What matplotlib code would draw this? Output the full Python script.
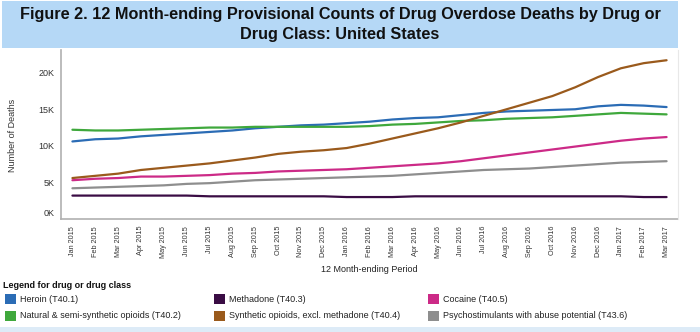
import matplotlib
matplotlib.use("Agg")
import matplotlib.pyplot as plt
from matplotlib.patches import Rectangle
from matplotlib.transforms import ScaledTranslation

months = ["Jan 2015", "Feb 2015", "Mar 2015", "Apr 2015", "May 2015", "Jun 2015",
          "Jul 2015", "Aug 2015", "Sep 2015", "Oct 2015", "Nov 2015", "Dec 2015",
          "Jan 2016", "Feb 2016", "Mar 2016", "Apr 2016", "May 2016", "Jun 2016",
          "Jul 2016", "Aug 2016", "Sep 2016", "Oct 2016", "Nov 2016", "Dec 2016",
          "Jan 2017", "Feb 2017", "Mar 2017"]

# deaths, in thousands, 12 months ending in each month
heroin = [10.6, 10.9, 11.0, 11.3, 11.5, 11.7, 11.9, 12.1, 12.4, 12.6, 12.8, 12.9, 13.1,
          13.3, 13.6, 13.8, 13.9, 14.2, 14.5, 14.7, 14.8, 14.9, 15.0, 15.4, 15.6, 15.5, 15.3]
natural = [12.2, 12.1, 12.1, 12.2, 12.3, 12.4, 12.5, 12.5, 12.6, 12.6, 12.6, 12.6, 12.6,
           12.7, 12.9, 13.0, 13.2, 13.4, 13.5, 13.7, 13.8, 13.9, 14.1, 14.3, 14.5, 14.4, 14.3]
methadone = [3.2, 3.2, 3.2, 3.2, 3.2, 3.2, 3.1, 3.1, 3.1, 3.1, 3.1, 3.1, 3.0,
             3.0, 3.0, 3.1, 3.1, 3.1, 3.1, 3.1, 3.1, 3.1, 3.1, 3.1, 3.1, 3.0, 3.0]
synthetic = [5.6, 5.9, 6.2, 6.7, 7.0, 7.3, 7.6, 8.0, 8.4, 8.9, 9.2, 9.4, 9.7,
             10.3, 11.0, 11.7, 12.4, 13.2, 14.1, 15.0, 15.9, 16.8, 18.0, 19.4, 20.6, 21.3, 21.7]
cocaine = [5.3, 5.5, 5.6, 5.8, 5.8, 5.9, 6.0, 6.2, 6.3, 6.5, 6.6, 6.7, 6.8,
           7.0, 7.2, 7.4, 7.6, 7.9, 8.3, 8.7, 9.1, 9.5, 9.9, 10.3, 10.7, 11.0, 11.2]
psycho = [4.2, 4.3, 4.4, 4.5, 4.6, 4.8, 4.9, 5.1, 5.3, 5.4, 5.5, 5.6, 5.7,
          5.8, 5.9, 6.1, 6.3, 6.5, 6.7, 6.8, 6.9, 7.1, 7.3, 7.5, 7.7, 7.8, 7.9]

series = [
    ("Heroin (T40.1)", heroin, "#2b6cb5"),
    ("Natural & semi-synthetic opioids (T40.2)", natural, "#3fa83c"),
    ("Methadone (T40.3)", methadone, "#3a0c44"),
    ("Synthetic opioids, excl. methadone (T40.4)", synthetic, "#9a5a1c"),
    ("Cocaine (T40.5)", cocaine, "#cc2a87"),
    ("Psychostimulants with abuse potential (T43.6)", psycho, "#8e8e8e"),
]

plt.rcParams["font.family"] = ["Liberation Sans", "DejaVu Sans"]

fig = plt.figure(figsize=(7.0, 3.32), dpi=100)
W, H = 700, 332

def fx(px):
    return px / W

def fy(py):
    return 1 - py / H

# title band
fig.patches.append(Rectangle((fx(2), fy(48)), fx(676), 47 / H, transform=fig.transFigure,
                             facecolor="#b5d8f6", edgecolor="none", zorder=0))
fig.text(fx(340), fy(15), "Figure 2. 12 Month-ending Provisional Counts of Drug Overdose Deaths by Drug or",
         ha="center", va="center", fontsize=11.7, fontweight="bold", color="#111111")
fig.text(fx(340), fy(35), "Drug Class: United States",
         ha="center", va="center", fontsize=11.7, fontweight="bold", color="#111111")

ax = fig.add_axes([fx(61), fy(219), fx(617), (219 - 50) / H])
x = list(range(len(months)))
for label, vals, color in series:
    ax.plot(x, [v * 1000 for v in vals], color=color, lw=1.6, solid_capstyle="round")

ax.set_xlim(-0.5, len(months) - 0.5)
ax.set_ylim(0, 23100)
ax.set_yticks([0, 5000, 10000, 15000, 20000])
ax.set_yticklabels(["0K", "5K", "10K", "15K", "20K"])
ax.set_xticks(x)
ax.set_xticklabels(months, rotation=90)
ax.tick_params(axis="both", length=0, labelcolor="#333333")
ax.tick_params(axis="x", pad=5, labelsize=5.2)
ax.tick_params(axis="y", pad=4.5, labelsize=6.5)
# lift the 0K label off the axis line
ax.get_yticklabels()[0].set_transform(
    ax.get_yticklabels()[0].get_transform() + ScaledTranslation(0, 5 / 72, fig.dpi_scale_trans))
for s in ["top", "right"]:
    ax.spines[s].set_visible(False)
ax.spines["left"].set_color("#b0b0b0")
ax.spines["bottom"].set_color("#b0b0b0")
ax.spines["left"].set_linewidth(1.2)
ax.spines["bottom"].set_linewidth(1.2)
fig.text(fx(13), fy(135), "Number of Deaths", rotation=90, ha="center", va="center",
         fontsize=6.5, color="#333333")
fig.text(fx(369), fy(270), "12 Month-ending Period", ha="center", va="center",
         fontsize=6.5, color="#222222")

# right edge of the plot frame
fig.add_artist(plt.Line2D([fx(678), fx(678)], [fy(219), fy(50)], transform=fig.transFigure,
                          color="#e8e8e8", lw=0.8))

# legend block
fig.text(fx(3), fy(286), "Legend for drug or drug class", fontsize=6.5, fontweight="bold",
         va="center", color="#111111")
cols = [5, 214, 428]
rows = [299, 316]
order = [(0, 0), (0, 1), (1, 0), (1, 1), (2, 0), (2, 1)]
for (label, vals, color), (c, r) in zip(series, order):
    px, py = cols[c], rows[r]
    fig.patches.append(Rectangle((fx(px), fy(py + 5)), fx(11), 10 / H, transform=fig.transFigure,
                                 facecolor=color, edgecolor="none"))
    fig.text(fx(px + 15), fy(py), label, fontsize=6.5, va="center", color="#222222")

# bottom band
fig.patches.append(Rectangle((0, 0), 1, 5 / H, transform=fig.transFigure,
                             facecolor="#ddebf7", edgecolor="none"))

fig.savefig("out.png", dpi=100)
